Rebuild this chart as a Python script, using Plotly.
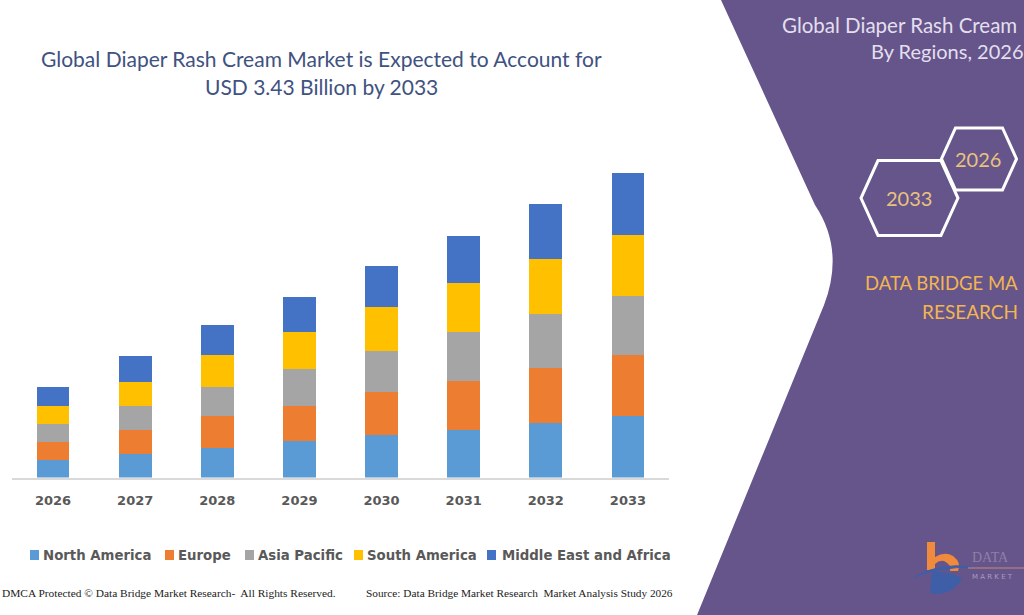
import plotly.graph_objects as go

W, H = 1024, 615

years = ["2026", "2027", "2028", "2029", "2030", "2031", "2032", "2033"]
series_names = ["North America", "Europe", "Asia Pacific", "South America", "Middle East and Africa"]
north_america = [0.20, 0.26, 0.33, 0.41, 0.48, 0.54, 0.61, 0.69]
europe        = [0.20, 0.28, 0.36, 0.40, 0.48, 0.55, 0.62, 0.69]
asia_pacific  = [0.20, 0.27, 0.33, 0.41, 0.47, 0.55, 0.62, 0.67]
south_america = [0.21, 0.27, 0.36, 0.42, 0.49, 0.55, 0.61, 0.69]
mea           = [0.21, 0.29, 0.34, 0.40, 0.47, 0.54, 0.63, 0.69]
series_values = [north_america, europe, asia_pacific, south_america, mea]
colors = ["#5B9BD5", "#ED7D31", "#A5A5A5", "#FFC000", "#4472C4"]


def px(x):
    return x / W


def py(y):
    return 1 - y / H


def build_path(cmds, close=True):
    out = []
    for c, pts in cmds:
        coords = " ".join("{:.4f},{:.4f}".format(px(x), py(y)) for x, y in pts)
        out.append(c + " " + coords)
    s = " ".join(out)
    return s + (" Z" if close else "")


fig = go.Figure()
for name, vals, col in zip(series_names, series_values, colors):
    fig.add_trace(go.Bar(x=years, y=vals, name=name, marker=dict(color=col, line=dict(width=0)),
                         showlegend=False))

purple = "#65558B"
shapes = []

# purple right panel with curved left edge
panel = build_path([("M", [(721, 0)]), ("L", [(815, 205)]), ("Q", [(845, 250), (824, 305)]),
                    ("L", [(697, 615)]), ("L", [(1024, 615)]), ("L", [(1024, 0)])])
shapes.append(dict(type="path", xref="paper", yref="paper", path=panel,
                   fillcolor=purple, line=dict(width=0), layer="below"))


def hexagon(cx, cy, w, h, a):
    v = [(cx - w, cy), (cx - w + a, cy - h), (cx + w - a, cy - h), (cx + w, cy),
         (cx + w - a, cy + h), (cx - w + a, cy + h)]
    p = build_path([("M", [v[0]])] + [("L", [q]) for q in v[1:]])
    return dict(type="path", xref="paper", yref="paper", path=p,
                line=dict(color="white", width=3), fillcolor="rgba(0,0,0,0)")


shapes.append(hexagon(909.5, 198, 48.5, 37.5, 17))
shapes.append(hexagon(979, 159, 37.5, 31, 14))

# legend markers
legend_marker_x = [30, 165, 245, 354, 487]
legend_text_x = [41, 176, 256, 365, 500]
for mx, col in zip(legend_marker_x, colors):
    shapes.append(dict(type="rect", xref="paper", yref="paper",
                       x0=px(mx), x1=px(mx + 9), y0=py(560), y1=py(550),
                       fillcolor=col, line=dict(width=0)))

# logo
orange = "#F08A3C"
blue_logo = "#3E5FA8"
shapes.append(dict(type="rect", xref="paper", yref="paper", x0=px(927), x1=px(935), y0=py(570), y1=py(542),
                   fillcolor=orange, line=dict(width=0)))
bowl = build_path([("M", [(935, 557)]), ("Q", [(945, 551), (953, 556)]), ("Q", [(962, 563), (958, 571)]),
                   ("L", [(950, 571)]), ("Q", [(952, 565), (944, 561)]), ("Q", [(939, 560), (935, 564)])])
shapes.append(dict(type="path", xref="paper", yref="paper", path=bowl,
                   fillcolor=orange, line=dict(width=0)))
swoosh = build_path([("M", [(915, 577)]), ("Q", [(940, 562), (972, 567)]), ("Q", [(940, 567), (915, 577)])])
shapes.append(dict(type="path", xref="paper", yref="paper", path=swoosh,
                   fillcolor=blue_logo, line=dict(color=blue_logo, width=1)))
dshape = build_path([("M", [(932, 572)]), ("L", [(930, 593)]), ("Q", [(952, 597), (962, 578)]),
                     ("Q", [(950, 571), (932, 572)])])
shapes.append(dict(type="path", xref="paper", yref="paper", path=dshape,
                   fillcolor=blue_logo, line=dict(width=0)))
shapes.append(dict(type="line", xref="paper", yref="paper", x0=px(968), x1=px(1024), y0=py(568), y1=py(568),
                   line=dict(color="#C98A7A", width=1)))

annotations = []
title_col = "#40527F"
annotations.append(dict(text="Global Diaper Rash Cream Market is Expected to Account for",
                        x=px(321), y=py(58), xref="paper", yref="paper", showarrow=False,
                        xanchor="center", yanchor="middle",
                        font=dict(family="Lato", size=21, color=title_col)))
annotations.append(dict(text="USD 3.43 Billion by 2033",
                        x=px(321), y=py(86), xref="paper", yref="paper", showarrow=False,
                        xanchor="center", yanchor="middle",
                        font=dict(family="Lato", size=21, color=title_col)))

for tx, name in zip(legend_text_x, series_names):
    annotations.append(dict(text=name, x=px(tx), y=py(555), xref="paper", yref="paper", showarrow=False,
                            xanchor="left", yanchor="middle",
                            font=dict(family="DejaVu Sans", size=13.3, color="#595959", weight="bold")))

serif = "Liberation Serif"
annotations.append(dict(text="DMCA Protected © Data Bridge Market Research-  All Rights Reserved.",
                        x=px(0), y=py(593), xref="paper", yref="paper", showarrow=False,
                        xanchor="left", yanchor="middle", font=dict(family=serif, size=11.4, color="#222222")))
annotations.append(dict(text="Source: Data Bridge Market Research  Market Analysis Study 2026",
                        x=px(364), y=py(593), xref="paper", yref="paper", showarrow=False,
                        xanchor="left", yanchor="middle", font=dict(family=serif, size=11.3, color="#222222")))

light = "#E4DFEE"
annotations.append(dict(text="Global Diaper Rash Cream", x=px(780), y=py(25), xref="paper", yref="paper",
                        showarrow=False, xanchor="left", yanchor="middle",
                        font=dict(family="Lato", size=20.5, color=light)))
annotations.append(dict(text="By Regions, 2026", x=px(869), y=py(51), xref="paper", yref="paper",
                        showarrow=False, xanchor="left", yanchor="middle",
                        font=dict(family="Lato", size=20, color=light)))
gold = "#E9C27E"
annotations.append(dict(text="2033", x=px(909), y=py(198), xref="paper", yref="paper", showarrow=False,
                        xanchor="center", yanchor="middle", font=dict(family="Lato", size=20, color=gold)))
annotations.append(dict(text="2026", x=px(978), y=py(159), xref="paper", yref="paper", showarrow=False,
                        xanchor="center", yanchor="middle", font=dict(family="Lato", size=20, color=gold)))
gold2 = "#F2B552"
annotations.append(dict(text="DATA BRIDGE MA", x=px(863), y=py(283), xref="paper", yref="paper",
                        showarrow=False, xanchor="left", yanchor="middle",
                        font=dict(family="Lato", size=18.5, color=gold2)))
annotations.append(dict(text="RESEARCH", x=px(970), y=py(311), xref="paper", yref="paper",
                        showarrow=False, xanchor="center", yanchor="middle",
                        font=dict(family="Lato", size=19, color=gold2)))
annotations.append(dict(text="DATA", x=px(970), y=py(557), xref="paper", yref="paper",
                        showarrow=False, xanchor="left", yanchor="middle",
                        font=dict(family="Liberation Serif", size=14, color="#8E7FA8")))
annotations.append(dict(text="M A R K E T", x=px(970), y=py(577), xref="paper", yref="paper",
                        showarrow=False, xanchor="left", yanchor="middle",
                        font=dict(family="DejaVu Sans", size=7, color="#A89CC0")))

fig.update_layout(
    width=W, height=H,
    margin=dict(l=0, r=0, t=0, b=0),
    paper_bgcolor="white", plot_bgcolor="white",
    barmode="stack", bargap=0.6,
    shapes=shapes, annotations=annotations,
    xaxis=dict(domain=[px(12), px(669)], showgrid=False, zeroline=False,
               showline=True, linecolor="#D9D9D9", linewidth=1.5, ticks="",
               ticklabelstandoff=10,
               tickfont=dict(family="DejaVu Sans", size=13, color="#595959", weight="bold")),
    yaxis=dict(domain=[(H - 477.5) / H, (H - 158.4) / H], range=[0, 3.6],
               showgrid=False, zeroline=False, showticklabels=False, showline=False),
    font=dict(family="Lato"),
)

fig.write_html("out.html")
